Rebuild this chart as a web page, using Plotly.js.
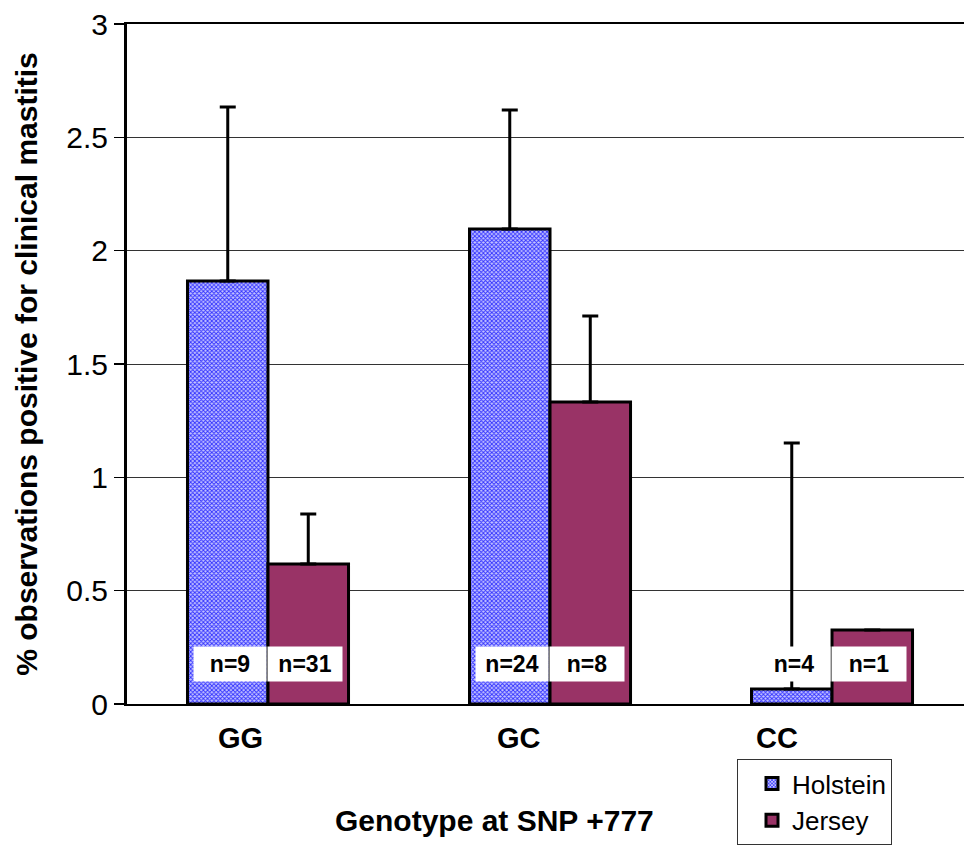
<!DOCTYPE html>
<html>
<head>
<meta charset="utf-8">
<script src="https://cdn.plot.ly/plotly-3.0.1.min.js"></script>
<style>html,body{margin:0;padding:0;background:#fff;}#chart{width:964px;height:846px;}</style>
</head>
<body>
<div id="chart"></div>
<script>
// ---- data ----
var categories = ['GG', 'GC', 'CC'];
var holstein = [1.866, 2.096, 0.066];
var holsteinErr = [0.768, 0.525, 1.085];
var jersey = [0.618, 1.332, 0.326];
var jerseyErr = [0.22, 0.38, 0];
var holsteinN = ['n=9', 'n=24', 'n=4'];
var jerseyN = ['n=31', 'n=8', 'n=1'];
var yTickVals = [0, 0.5, 1, 1.5, 2, 2.5, 3];
var yTickText = ['0', '0.5', '1', '1.5', '2', '2.5', '3'];

// ---- style ----
var FONT = 'Liberation Sans, Arial, sans-serif';
var catLabelShift = [-28, -31, -55];

var traces = [
  {
    type: 'bar', name: 'Holstein', x: categories, y: holstein,
    marker: {
      color: '#ffffff',
      line: {color: '#000', width: 3},
      pattern: {shape: 'x', fgcolor: '#2e2eff', bgcolor: '#c4c4ff', size: 3, solidity: 0.5}
    },
    error_y: {type: 'data', symmetric: false, array: holsteinErr, arrayminus: [0, 0, 0],
              color: '#000', thickness: 3, width: 8}
  },
  {
    type: 'bar', name: 'Jersey', x: categories, y: jersey,
    marker: {color: '#993366', line: {color: '#000', width: 3}},
    error_y: {type: 'data', symmetric: false, array: jerseyErr, arrayminus: [0, 0, 0],
              color: '#000', thickness: 3, width: 8}
  }
];

var annotations = [];
categories.forEach(function (c, i) {
  annotations.push({
    xref: 'x', yref: 'y', x: c, y: 0.176, xshift: -38, text: holsteinN[i], showarrow: false,
    bgcolor: '#fff', width: 70, height: 32, font: {family: FONT, size: 23, weight: 'bold', color: '#000'}
  });
  annotations.push({
    xref: 'x', yref: 'y', x: c, y: 0.176, xshift: 37, text: jerseyN[i], showarrow: false,
    bgcolor: '#fff', width: 72, height: 32, font: {family: FONT, size: 23, weight: 'bold', color: '#000'}
  });
  annotations.push({
    xref: 'x', yref: 'paper', x: c, y: -0.05, yanchor: 'middle', xshift: catLabelShift[i],
    text: c, showarrow: false, font: {family: FONT, size: 29, weight: 'bold', color: '#000'}
  });
});
annotations.push({
  xref: 'paper', yref: 'paper', x: 0.4385, y: -0.1706, yanchor: 'middle', xanchor: 'center',
  text: 'Genotype at SNP +777', showarrow: false,
  font: {family: FONT, size: 30, weight: 'bold', color: '#000'}
});

var layout = {
  width: 964, height: 846,
  margin: {l: 127, r: 0, t: 24, b: 142, pad: 0},
  paper_bgcolor: '#fff', plot_bgcolor: '#fff',
  barmode: 'group', bargap: 0.429, bargroupgap: 0,
  font: {family: FONT, color: '#000'},
  xaxis: {
    type: 'category', range: [-0.5, 2.468], showticklabels: false, ticks: '',
    showline: true, linecolor: '#000', linewidth: 2, mirror: true, showgrid: false, zeroline: false
  },
  yaxis: {
    range: [0, 3], tickvals: yTickVals, ticktext: yTickText,
    ticks: 'outside', ticklen: 10, tickwidth: 1.5, tickcolor: '#000',
    tickfont: {family: FONT, size: 30, color: '#000'},
    showline: true, linecolor: '#000', linewidth: 3,
    showgrid: true, gridcolor: '#333', gridwidth: 1, zeroline: false,
    title: {text: '% observations positive for clinical mastitis', standoff: 20,
            font: {family: FONT, size: 30, weight: 'bold', color: '#000'}}
  },
  legend: {
    x: 0.7288, y: -0.081, xanchor: 'left', yanchor: 'top',
    bgcolor: '#fff', bordercolor: '#333', borderwidth: 1, indentation: 14,
    font: {family: FONT, size: 26, color: '#000'}, traceorder: 'normal'
  },
  showlegend: true,
  annotations: annotations
};

Plotly.newPlot('chart', traces, layout, {displayModeBar: false, staticPlot: true});
</script>
</body>
</html>
